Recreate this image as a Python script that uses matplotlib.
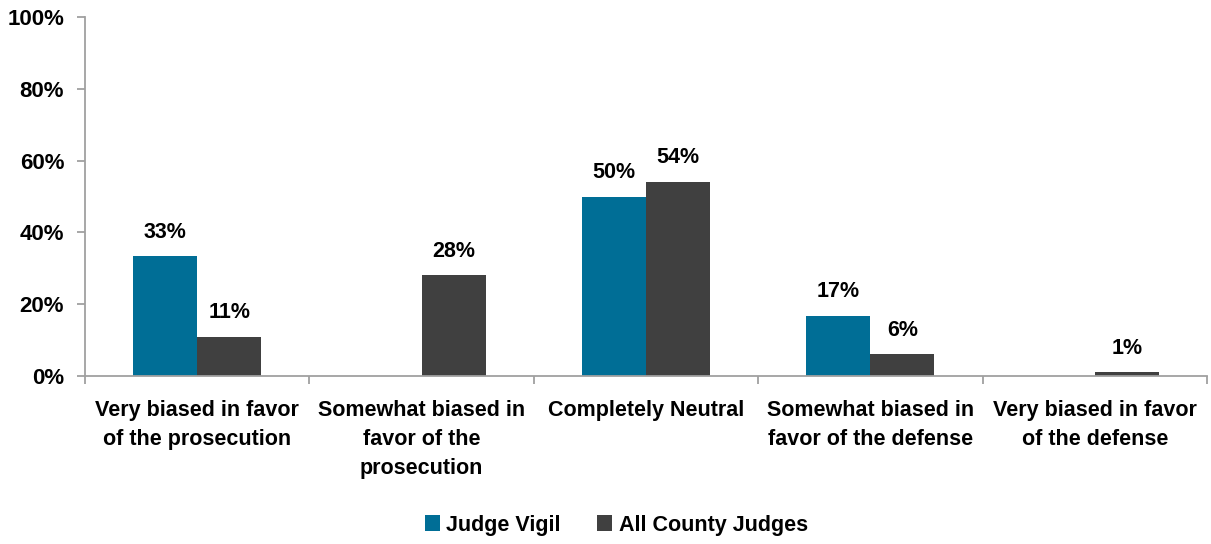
import matplotlib
matplotlib.use('Agg')
import matplotlib.pyplot as plt
import numpy as np

plt.rcParams['font.family'] = ['Liberation Sans', 'DejaVu Sans']
plt.rcParams['font.weight'] = 'bold'

CATEGORIES = ['Very biased in favor\nof the prosecution',
              'Somewhat biased in\nfavor of the\nprosecution',
              'Completely Neutral',
              'Somewhat biased in\nfavor of the defense',
              'Very biased in favor\nof the defense']
JUDGE_VIGIL = [33.3, 0, 50, 16.7, 0]
ALL_JUDGES = [11, 28, 54, 6, 1]
VIGIL_LABELS = ['33%', '', '50%', '17%', '']
ALL_LABELS = ['11%', '28%', '54%', '6%', '1%']

BLUE = '#006E96'
GREY = '#404040'

fig = plt.figure(figsize=(12.11, 5.44), dpi=100)
ax = fig.add_axes([85 / 1211, 1 - 376 / 544, (1207 - 85) / 1211, (376 - 17) / 544])

x = np.arange(len(CATEGORIES))
w = 0.285
bars_v = ax.bar(x - w / 2, JUDGE_VIGIL, w, color=BLUE, label='Judge Vigil')
bars_a = ax.bar(x + w / 2, ALL_JUDGES, w, color=GREY, label='All County Judges')

for bars, labels in [(bars_v, VIGIL_LABELS), (bars_a, ALL_LABELS)]:
    for bar, lab in zip(bars, labels):
        if lab:
            ax.annotate(lab, (bar.get_x() + bar.get_width() / 2, bar.get_height()),
                        xytext=(0, 10), textcoords='offset points',
                        ha='center', va='bottom', fontsize=15.5, fontweight='bold')

ax.set_xlim(-0.5, len(CATEGORIES) - 0.5)
ax.set_ylim(0, 100)
ax.set_yticks(np.arange(0, 101, 20))
ax.set_yticklabels([f'{v}%' for v in range(0, 101, 20)], fontsize=16, fontweight='bold')

# category labels centered, ticks at group boundaries
ax.set_xticks(x)
ax.set_xticklabels(CATEGORIES, fontsize=15.5, fontweight='bold', linespacing=1.5)
ax.tick_params(axis='x', length=0, pad=17)
ax.set_xticks(np.arange(-0.5, len(CATEGORIES)), minor=True)
ax.tick_params(axis='x', which='minor', length=6, color='#A0A0A0', width=1.3)
ax.tick_params(axis='y', length=6, color='#A0A0A0', width=1.3, pad=9)

for s in ['top', 'right']:
    ax.spines[s].set_visible(False)
for s in ['left', 'bottom']:
    ax.spines[s].set_color('#A0A0A0')
    ax.spines[s].set_linewidth(1.3)

fig.legend(loc='center', bbox_to_anchor=(0.509, 1 - 525 / 544), ncol=2, frameon=False,
           handlelength=0.7, handleheight=0.7, handletextpad=0.3,
           columnspacing=1.7, prop={'weight': 'bold', 'size': 15.5})

fig.savefig('out.png', dpi=100)
